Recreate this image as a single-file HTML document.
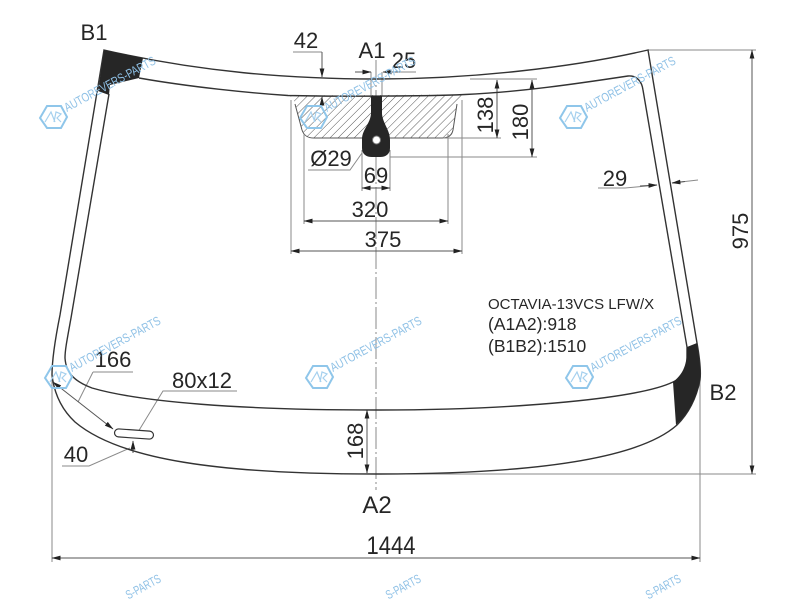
<!DOCTYPE html>
<html><head><meta charset="utf-8">
<style>
html,body{margin:0;padding:0;background:#fff;width:800px;height:600px;overflow:hidden}
svg{display:block;filter:blur(0.35px)}
text{font-family:"Liberation Sans",sans-serif;fill:#262626}
.t{font-size:22px;text-anchor:middle}
.d{stroke:#8a8a8a;stroke-width:1;fill:none}
.o{stroke:#333;stroke-width:1.4;fill:none}
text.wt{font-size:12.5px;fill:#8fc1e6}
</style></head><body>
<svg width="800" height="600" viewBox="0 0 800 600" xmlns="http://www.w3.org/2000/svg">
<defs>
<pattern id="h" width="5.7" height="5.7" patternUnits="userSpaceOnUse" patternTransform="rotate(45)">
<line x1="0" y1="0" x2="0" y2="5.7" stroke="#444" stroke-width="0.9"/>
</pattern>
<marker id="a" markerWidth="9" markerHeight="6" refX="8.5" refY="3" orient="auto-start-reverse" markerUnits="userSpaceOnUse">
<path d="M0,0.6 L9,3 L0,5.4 Z" fill="#222"/>
</marker>
<g id="wm">
<path d="M-13,1 L-6,-11 L8,-11 L14,0 L8,11 L-6,11 Z" fill="none" stroke="#8fc6ea" stroke-width="2"/>
<path d="M-8,5 L-2,-5 L2,5 M1,5 L3,-5 L8,-3 L4,1 L8,5" fill="none" stroke="#a5d0ee" stroke-width="1.2"/>
<text class="wt" x="0" y="0" transform="translate(14,-5) rotate(-28.5)" textLength="102" lengthAdjust="spacingAndGlyphs">AUTOREVERS-PARTS</text>
</g>
</defs>

<!-- hatched region -->
<path d="M288,95.5 C293,97 294,100 295,104 L302,130 C304,136 308,138 314,138 L442,138 C449,138 452,135 453,130 L457,104 C458,99 460,96 465,94.5 Z" fill="url(#h)"/>
<path d="M295,104 L302,130 C304,136 308,138 314,138 L442,138 C449,138 452,135 453,130 L457,104" fill="none" stroke="#555" stroke-width="1"/>

<!-- witness and dimension lines -->
<g class="d">
<path d="M52,380 V562 M700,380 V562"/>
<path d="M648,50 H756 M376,474 H756"/>
<path d="M291,100 V254 M462,100 V254 M304,134 V224 M448,134 V224 M362,150 V191 M390,150 V191"/>
<path d="M443,138 H501 M390,157 H537 M470,79 H537"/>
<path d="M293,52 H322 M355,72 H371 M383,72 H416"/>
<path d="M308,170 H350 L362,153"/>
<path d="M93,372 H133 M93,372 L78,402"/>
<path d="M237,391 H163 L138,432"/>
<path d="M62,466 H89 L130,448"/>
<path d="M598,188 H625 L657,185 M672,183 L698,180"/>
<path d="M376,60 V96 M376,157 V490" stroke-dasharray="22 3 2 3"/>
<path d="M371,72 V96 M382,72 V96"/>
</g>
<g stroke="#555" stroke-width="1" fill="none">
<line x1="322" y1="52" x2="322" y2="77" marker-end="url(#a)"/>
<line x1="322" y1="104" x2="322" y2="97" marker-end="url(#a)"/>
<line x1="355" y1="72" x2="371" y2="72" marker-end="url(#a)"/>
<line x1="400" y1="72" x2="383" y2="72" marker-end="url(#a)"/>
<line x1="497" y1="80" x2="497" y2="138" marker-start="url(#a)" marker-end="url(#a)"/>
<line x1="532" y1="80" x2="532" y2="157" marker-start="url(#a)" marker-end="url(#a)"/>
<line x1="362" y1="188" x2="390" y2="188" marker-start="url(#a)" marker-end="url(#a)"/>
<line x1="304" y1="221" x2="448" y2="221" marker-start="url(#a)" marker-end="url(#a)"/>
<line x1="291" y1="251" x2="462" y2="251" marker-start="url(#a)" marker-end="url(#a)"/>
<line x1="752" y1="50" x2="752" y2="474" marker-start="url(#a)" marker-end="url(#a)"/>
<line x1="52" y1="558" x2="700" y2="558" marker-start="url(#a)" marker-end="url(#a)"/>
<line x1="367" y1="410" x2="367" y2="473" marker-start="url(#a)" marker-end="url(#a)"/>
<line x1="53" y1="382" x2="113" y2="429" marker-start="url(#a)" marker-end="url(#a)"/>
<line x1="133" y1="441" x2="133" y2="453" marker-start="url(#a)"/>
<line x1="640" y1="186" x2="657" y2="185" marker-end="url(#a)"/>
<line x1="685" y1="181.5" x2="672" y2="183" marker-end="url(#a)"/>
</g>

<!-- glass outline -->
<path class="o" d="M104,50 C200,72 290,79 376,79 C470,79 570,68 648,50 L697,343 C700,360 701,372 700,380 C696,400 688,414 677,425 C640,458 540,474 376,474 C220,474 120,460 75,422 C60,408 54,392 52,375 C52,360 55,340 60,315 L104,50 Z"/>
<path class="o" d="M139,78 C190,87 250,93 288,95.5 C330,96.5 420,96.5 465,94.5 C520,92 575,84 628,76 C637,75 642,82 643,90 L687,347 L687,360 C686,372 680,379 673,382 C640,398 520,410 376,410 C240,410 140,402 92,388 C76,382 66,374 65,358 C65,350 67,340 71,318 L109,94"/>

<!-- black corners -->
<path d="M104,50 L143,58 L139,78 L110,85 L109,95 L98,91 Z" fill="#262626"/>
<path d="M697,343 L687,347 C687,360 686,372 673,382 L676,425 C688,414 696,400 700,380 C701,370 699,355 697,343 Z" fill="#262626"/>

<!-- black tab -->
<path d="M371,96 H382 V114 C383,124 390,130 390,140 V148 C390,154 386,157 380,157 H372 C366,157 362,154 362,148 V139 C362,130 370,124 371,114 Z" fill="#262626"/>
<circle cx="376.5" cy="140" r="4" fill="#fff" stroke="#777" stroke-width="1"/>

<!-- slot -->
<rect x="114.5" y="430" width="39" height="8" rx="4" transform="rotate(4 134 434)" fill="#fff" stroke="#333" stroke-width="1.2"/>

<!-- labels -->
<text class="t" x="94" y="40">B1</text>
<text class="t" x="723" y="400">B2</text>
<text class="t" x="306" y="48">42</text>
<text class="t" x="372" y="58">A1</text>
<text class="t" x="404" y="68">25</text>
<text class="t" x="331" y="166">Ø29</text>
<text class="t" x="376" y="183">69</text>
<text class="t" x="370" y="217">320</text>
<text class="t" x="383" y="247">375</text>
<text class="t" x="615" y="186">29</text>
<text class="t" transform="translate(493,115) rotate(-90)">138</text>
<text class="t" transform="translate(528,122) rotate(-90)">180</text>
<text class="t" transform="translate(748,231) rotate(-90)">975</text>
<text class="t" transform="translate(363,441) rotate(-90)">168</text>
<text class="t" x="377" y="513" style="font-size:24px">A2</text>
<text class="t" transform="translate(391,554) scale(1,1.15)">1444</text>
<text class="t" x="113" y="367">166</text>
<text class="t" x="202" y="388">80x12</text>
<text class="t" x="76" y="462">40</text>
<text x="488" y="309" font-size="15">OCTAVIA-13VCS LFW/X</text>
<text x="488" y="330" font-size="17.5">(A1A2):918</text>
<text x="488" y="352" font-size="17.5">(B1B2):1510</text>

<!-- watermarks -->
<use href="#wm" x="53" y="117"/>
<use href="#wm" x="313" y="117"/>
<use href="#wm" x="573" y="117"/>
<use href="#wm" x="58" y="377"/>
<use href="#wm" x="319" y="377"/>
<use href="#wm" x="579" y="377"/>
<text class="wt" transform="translate(128.5,599.5) rotate(-28.5)" textLength="38" lengthAdjust="spacingAndGlyphs">S-PARTS</text>
<text class="wt" transform="translate(388.5,599.5) rotate(-28.5)" textLength="38" lengthAdjust="spacingAndGlyphs">S-PARTS</text>
<text class="wt" transform="translate(648.5,599.5) rotate(-28.5)" textLength="38" lengthAdjust="spacingAndGlyphs">S-PARTS</text>
</svg>
</body></html>
